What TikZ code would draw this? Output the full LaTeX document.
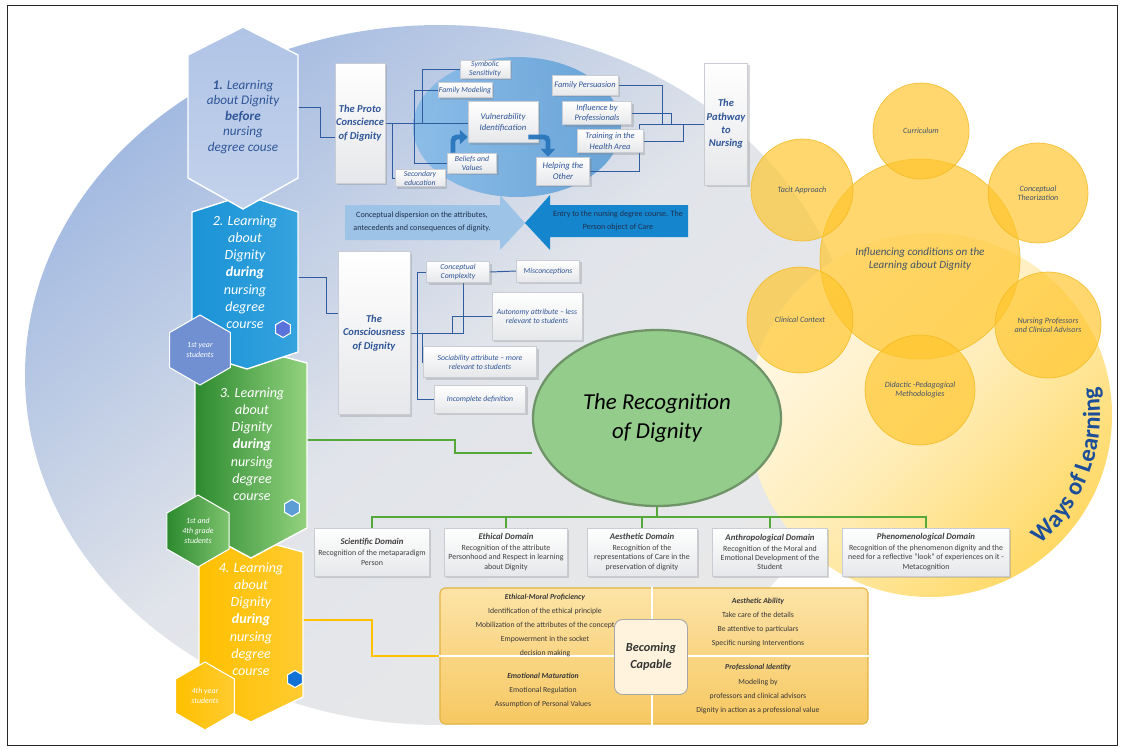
\documentclass[tikz,border=0pt]{standalone}
\usepackage{fontspec}
\setmainfont{Carlito}
\usetikzlibrary{shapes.geometric,shadows,decorations.text,arrows.meta}

\definecolor{dignavy}{HTML}{2F5597}
\definecolor{wirenavy}{HTML}{2E5C9E}
\definecolor{cardline}{HTML}{C9CDD3}
\definecolor{cardgray}{HTML}{E6E7EA}
\definecolor{hexpale}{HTML}{B0C4E6}
\definecolor{hexpaleB}{HTML}{C3D2EC}
\definecolor{hexsky}{HTML}{1A93D6}
\definecolor{hexskyB}{HTML}{35A3DE}
\definecolor{hexlav}{HTML}{7090D2}
\definecolor{leafdark}{HTML}{2C8A2F}
\definecolor{leaflight}{HTML}{93D27F}
\definecolor{sunA}{HTML}{FFC000}
\definecolor{sunB}{HTML}{FFCB30}
\definecolor{bubblefill}{HTML}{FFC52A}
\definecolor{bubbleedge}{HTML}{F2B81E}
\definecolor{slate}{HTML}{44546A}
\definecolor{recogfill}{HTML}{93CC8B}
\definecolor{recogrim}{HTML}{6F9468}
\definecolor{leafline}{HTML}{55A83A}
\definecolor{skyarrow}{HTML}{9DC3E6}
\definecolor{deeparrow}{HTML}{1585CD}
\definecolor{bendarrow}{HTML}{2E78BE}
\definecolor{arrowtext}{HTML}{1F2F4F}
\definecolor{capA}{HTML}{FCE3A6}
\definecolor{capB}{HTML}{F7C862}
\definecolor{capline}{HTML}{E2B340}
\definecolor{capcream}{HTML}{FFF3DD}
\definecolor{waysblue}{HTML}{1D4E99}
\definecolor{bgblue}{HTML}{A3BAE1}
\definecolor{bgmid}{HTML}{E1E4EA}
\definecolor{bggray}{HTML}{E9E9E9}
\definecolor{discpale}{HTML}{FFF8E8}
\definecolor{discmid}{HTML}{FFEDB8}
\definecolor{discdeep}{HTML}{FFD966}
\definecolor{lensA}{HTML}{86BBE8}
\definecolor{lensB}{HTML}{5C9DD6}

\newlength\pxu
\setlength\pxu{0.02cm}
\pgfdeclarelayer{backdrop}
\pgfdeclarelayer{wires}
\pgfsetlayers{backdrop,wires,main}

\begin{document}
\begin{tikzpicture}[x=0.02cm, y=-0.02cm,
  card/.style={draw=cardline, line width=0.3pt, top color=white, bottom color=cardgray,
    drop shadow={opacity=0.3, shadow xshift=1.2pt, shadow yshift=-1.2pt},
    inner sep=0.5pt, align=center, text=dignavy, font=\fontsize{4.4}{5}\selectfont\itshape},
  titlecard/.style={card, font=\fontsize{6}{7.6}\selectfont\bfseries\itshape},
  domaincard/.style={draw=cardline, line width=0.3pt, top color=white, bottom color=cardgray,
    drop shadow={opacity=0.3, shadow xshift=1pt, shadow yshift=-1pt},
    minimum height=48\pxu, inner sep=1pt, align=center, text=black!75,
    font=\fontsize{4.5}{5.3}\selectfont},
  hextext/.style={align=center, text=white, font=\fontsize{8}{9.8}\selectfont\itshape},
  smallhex/.style={regular polygon, regular polygon sides=6, shape border rotate=30,
    draw=white, line width=0.6pt, inner sep=0pt, align=center, text=white,
    font=\fontsize{4.5}{5.6}\selectfont\itshape},
  tinyhex/.style={regular polygon, regular polygon sides=6, shape border rotate=30,
    draw=white, line width=0.6pt, minimum size=17\pxu, inner sep=0pt},
  bubble/.style={circle, fill=bubblefill, fill opacity=0.68, text opacity=1,
    draw=bubbleedge, draw opacity=0.8, line width=0.4pt, inner sep=0pt, align=center,
    text=slate, font=\fontsize{4.6}{5.2}\selectfont\itshape},
  captext/.style={align=center, text=black!78, font=\fontsize{4.4}{8}\selectfont},
  wire/.style={draw=wirenavy, line width=0.55pt},
  leafwire/.style={draw=leafline, line width=0.9pt},
  sunwire/.style={draw=sunA, line width=1pt},
  turnarrow/.style={draw=bendarrow, line width=2.8pt, rounded corners=4\pxu,
    -{Triangle[width=8pt, length=4.5pt]}}]
\useasboundingbox (0,0) rectangle (1122,748);

% backdrop: grey-blue disc, yellow disc and the blue lens
\begin{pgfonlayer}{backdrop}
\fill[white] (0,0) rectangle (1122,748);
\shade[top color=bgblue, bottom color=bggray, middle color=bgmid, shading angle=40]
  (440,375) ellipse[x radius=415\pxu, y radius=350\pxu];
\coordinate (ydisc) at (930,415);
\shade[top color=discpale, bottom color=discdeep, middle color=discmid, shading angle=45]
  (ydisc) circle[radius=182\pxu];
\shade[left color=lensA, right color=lensB, opacity=0.9]
  (517,127) ellipse[x radius=104\pxu, y radius=70\pxu];
\end{pgfonlayer}

% stage hexagons, lowest first so that each one overlaps the next
\shadedraw[left color=sunA, right color=sunB, draw=white, line width=0.8pt]
  (199,552) -- (251,538) -- (303,552) -- (303,697) -- (251,722) -- (199,697) -- cycle;
\shadedraw[left color=leafdark, right color=leaflight, draw=white, line width=0.8pt]
  (195,363) -- (251,348) -- (307,363) -- (307,528) -- (251,558) -- (195,528) -- cycle;
\shadedraw[left color=hexsky, right color=hexskyB, draw=white, line width=0.8pt]
  (192,212) -- (245,195) -- (298,212) -- (298,352) -- (247,369) -- (192,352) -- cycle;
\shadedraw[top color=hexpale, bottom color=hexpaleB, draw=white, line width=0.8pt]
  (188,55) -- (243,27) -- (298,55) -- (298,178) -- (243,209) -- (188,178) -- cycle;

\node[hextext, text=dignavy, font=\fontsize{7.5}{8.8}\selectfont\itshape] (hexone) at (243,117)
  {\textbf{1.} Learning\\about Dignity\\\textbf{before}\\nursing\\degree couse};
\node[hextext] (hextwo) at (245,272) {2. Learning\\about\\Dignity\\\textbf{during}\\nursing\\degree\\course};
\node[hextext] (hexthree) at (252,444) {3. Learning\\about\\Dignity\\\textbf{during}\\nursing\\degree\\course};
\node[hextext] (hexfour) at (251,619) {4. Learning\\about\\Dignity\\\textbf{during}\\nursing\\degree\\course};

\node[tinyhex, fill=hexlav!80!blue] (tinytwo) at (283,329) {};
\node[tinyhex, fill=lensB] (tinythree) at (292,508) {};
\node[tinyhex, fill=deeparrow!85!blue] (tinyfour) at (295,679) {};

\node[smallhex, fill=hexlav, minimum size=70\pxu] (firstyear) at (200,350) {1st year\\students};
\node[smallhex, left color=leafdark, right color=leaflight!80!leafdark, minimum size=72\pxu] (firstfourth) at (198,531)
  {1st and\\4th grade\\students};
\node[smallhex, left color=sunA, right color=sunB, minimum size=68\pxu] (fourthyear) at (205,696) {4th year\\students};

\coordinate (h1out) at (298,107);
\coordinate (h2out) at (298,277);
\coordinate (h3out) at (307,440);
\coordinate (h4out) at (303,620);

% proto conscience and pathway
\node[titlecard, minimum width=50\pxu, minimum height=120\pxu] (proto) at (360,123) {The Proto\\Conscience\\of Dignity};
\node[titlecard, minimum width=43\pxu, minimum height=122\pxu] (pathway) at (726,124) {The\\Pathway\\to\\Nursing};
\node[card, minimum width=50\pxu, minimum height=18\pxu] (symb) at (485,69) {Symbolic\\Sensitivity};
\node[card, minimum width=50\pxu, minimum height=15\pxu] (fammod) at (465,90) {Family Modeling};
\node[card, minimum width=70\pxu, minimum height=41\pxu, font=\fontsize{5}{6.3}\selectfont\itshape] (vuln) at (503,122) {Vulnerability\\Identification};
\node[card, minimum width=49\pxu, minimum height=20\pxu] (belief) at (472,163) {Beliefs and\\Values};
\node[card, minimum width=50\pxu, minimum height=17\pxu] (second) at (420,178) {Secondary\\education};
\node[card, minimum width=53\pxu, minimum height=28\pxu, font=\fontsize{5}{6}\selectfont\itshape] (helping) at (563,171) {Helping the\\Other};
\node[card, minimum width=66\pxu, minimum height=20\pxu, font=\fontsize{4.8}{6}\selectfont\itshape] (fampers) at (585,85) {Family Persuasion};
\node[card, minimum width=69\pxu, minimum height=23\pxu, font=\fontsize{4.8}{6}\selectfont\itshape] (influence) at (597,113) {Influence by\\Professionals};
\node[card, minimum width=66\pxu, minimum height=23\pxu, font=\fontsize{4.8}{6}\selectfont\itshape] (training) at (610,141) {Training in the\\Health Area};

\draw[turnarrow] ([xshift=-19\pxu]belief.north) |- ([yshift=-15\pxu]vuln.west);
\draw[turnarrow] ([xshift=-10\pxu, yshift=-15\pxu]vuln.east) -| ([xshift=-15\pxu]helping.north);

% the two opposed block arrows
\fill[skyarrow] (345,205) -- (500,205) -- (500,195) -- (525,223) -- (500,250) -- (500,240) -- (345,240) -- cycle;
\fill[deeparrow] (688,205) -- (550,205) -- (550,195) -- (525,223) -- (550,250) -- (550,237) -- (688,237) -- cycle;
\node[align=center, text=arrowtext, font=\fontsize{4.6}{7}\selectfont] (dispersion) at (422,222)
  {Conceptual dispersion on the attributes,\\antecedents and consequences of dignity.};
\node[align=center, text=arrowtext, font=\fontsize{4.6}{7}\selectfont] (entry) at (618,221)
  {Entry to the nursing degree course. The\\Person object of Care};

% consciousness
\node[titlecard, minimum width=72\pxu, minimum height=163\pxu] (consc) at (374,333) {The\\Consciousness\\of Dignity};
\node[card, minimum width=63\pxu, minimum height=21\pxu] (cc) at (458,272) {Conceptual\\Complexity};
\node[card, minimum width=63\pxu, minimum height=22\pxu] (misc) at (548,271) {Misconceptions};
\node[card, minimum width=90\pxu, minimum height=48\pxu] (auto) at (537,316) {Autonomy attribute -- less\\relevant to students};
\node[card, minimum width=113\pxu, minimum height=31\pxu] (soci) at (480,362) {Sociability attribute -- more\\relevant to students};
\node[card, minimum width=91\pxu, minimum height=28\pxu] (incompl) at (480,399) {Incomplete definition};

% influencing conditions
\node[bubble, minimum size=200\pxu, font=\fontsize{6.3}{7.6}\selectfont\itshape] (infl) at (920,259)
  {Influencing conditions on the\\Learning about Dignity};
\node[bubble, minimum size=96\pxu] (curr) at (921,131) {Curriculum};
\node[bubble, minimum size=100\pxu] (theor) at (1038,193) {Conceptual\\Theorization};
\node[bubble, minimum size=106\pxu] (advis) at (1048,325) {Nursing Professors\\and Clinical Advisors};
\node[bubble, minimum size=110\pxu] (didac) at (920,390) {Didactic -Pedagogical\\Methodologies};
\node[bubble, minimum size=106\pxu] (clin) at (800,320) {Clinical Context};
\node[bubble, minimum size=102\pxu] (tacit) at (802,190) {Tacit Approach};

\path[decorate, decoration={text along path, text align=center, text color=waysblue,
    text={|\fontsize{14}{14}\selectfont\bfseries|Ways of Learning}}]
  ([shift={(-54:170\pxu)}]ydisc) arc[start angle=-54, end angle=14, radius=170\pxu];

% recognition and its domains
\node[ellipse, draw=recogrim, line width=1.3pt, fill=recogfill, minimum width=248\pxu, minimum height=176\pxu,
  align=center, font=\fontsize{13}{16}\selectfont\itshape] (recog) at (657,418) {The Recognition\\of Dignity};

\node[domaincard, minimum width=115\pxu] (sci) at (372,552)
  {{\fontsize{5}{6}\selectfont\bfseries\itshape Scientific Domain}\\[1pt]Recognition of the metaparadigm\\Person};
\node[domaincard, minimum width=123\pxu] (eth) at (506,552)
  {{\fontsize{5}{6}\selectfont\bfseries\itshape Ethical Domain}\\[1pt]Recognition of the attribute\\Personhood and Respect in learning\\about Dignity};
\node[domaincard, minimum width=110\pxu] (aes) at (642,552)
  {{\fontsize{5}{6}\selectfont\bfseries\itshape Aesthetic Domain}\\[1pt]Recognition of the\\representations of Care in the\\preservation of dignity};
\node[domaincard, minimum width=115\pxu] (anth) at (770,552)
  {{\fontsize{5}{6}\selectfont\bfseries\itshape Anthropological Domain}\\[1pt]Recognition of the Moral and\\Emotional Development of the\\Student};
\node[domaincard, minimum width=167\pxu] (phen) at (926,552)
  {{\fontsize{5}{6}\selectfont\bfseries\itshape Phenomenological Domain}\\[1pt]Recognition of the phenomenon dignity and the\\need for a reflective "look" of experiences on it -\\Metacognition};

% becoming capable
\node[draw=capline, line width=0.6pt, rounded corners=5\pxu, top color=capA, bottom color=capB,
  minimum width=428\pxu, minimum height=136\pxu] (capable) at (654,656) {};
\draw[white, line width=1pt] ([xshift=-2\pxu]capable.north) -- ([xshift=-2\pxu]capable.south);
\draw[white, line width=1pt] (capable.west) -- (capable.east);
\node[captext, anchor=north] (ethmoral) at (545,588)
  {{\bfseries\itshape Ethical-Moral Proficiency}\\Identification of the ethical principle\\Mobilization of the attributes of the concept\\Empowerment in the socket\\decision making};
\node[captext, anchor=north] (aesab) at (758,592)
  {{\bfseries\itshape Aesthetic Ability}\\Take care of the details\\Be attentive to particulars\\Specific nursing Interventions};
\node[captext] (emomat) at (543,690)
  {{\bfseries\itshape Emotional Maturation}\\Emotional Regulation\\Assumption of Personal Values};
\node[captext] (profid) at (758,689)
  {{\bfseries\itshape Professional Identity}\\Modeling by\\professors and clinical advisors\\Dignity in action as a professional value};
\node[draw=black!35, line width=0.5pt, fill=capcream, rounded corners=8\pxu, minimum width=73\pxu, minimum height=75\pxu,
  align=center, text=black!80, font=\fontsize{7}{9.7}\selectfont\bfseries\itshape] (becoming) at (651,657) {Becoming\\Capable};

% connectors, kept under the boxes
\begin{pgfonlayer}{wires}
\draw[wire] (h1out) -- ++(22,0) |- ([yshift=-14\pxu]proto.west);
\draw[wire] (proto.east) -- (proto.east -| vuln.west);
\draw[wire] (proto.east) -- ++(7,0) |- (second.west);
\draw[wire] (fammod.west) -- ++(-23,0) |- (belief.west);
\draw[wire] (symb.west) -- ++(-37,0) -- ++(0,54);
\draw[wire] (fampers.east) -- ++(44,0) |- (pathway.west);
\draw[wire] (influence.east) -- ++(40,0) |- (pathway.west);
\draw[wire] (training.east) -- ++(40,0) |- (pathway.west);
\draw[wire] (helping.east) -- ++(50,0) |- (pathway.west);

\draw[wire] (h2out) -- ++(28,0) |- ([yshift=20\pxu]consc.west);
\draw[wire] (consc.east) -| ([xshift=5\pxu]cc.south);
\draw[wire] (cc.west) -- ++(-9,0) |- (incompl.west);
\draw[wire] (consc.east) ++(12,0) |- (soci.west);
\draw[wire] (consc.east) ++(42,0) |- (auto.west);
\draw[wire] (cc.east) -- (misc.west);

\draw[leafwire] (h3out) -- ++(148,0) |- ([yshift=-35\pxu]recog.west);
\coordinate (bus) at ([yshift=-10\pxu]recog.south);
\draw[leafwire] (recog.south) -- (bus);
\foreach \d in {sci,eth,aes,anth,phen}
  \draw[leafwire] (bus) -| (\d.north);

\draw[sunwire] (h4out) -- ++(69,0) |- (capable.west);
\end{pgfonlayer}

\draw[black!85, line width=0.5pt] (7,5) rectangle (1117,745);
\end{tikzpicture}
\end{document}
